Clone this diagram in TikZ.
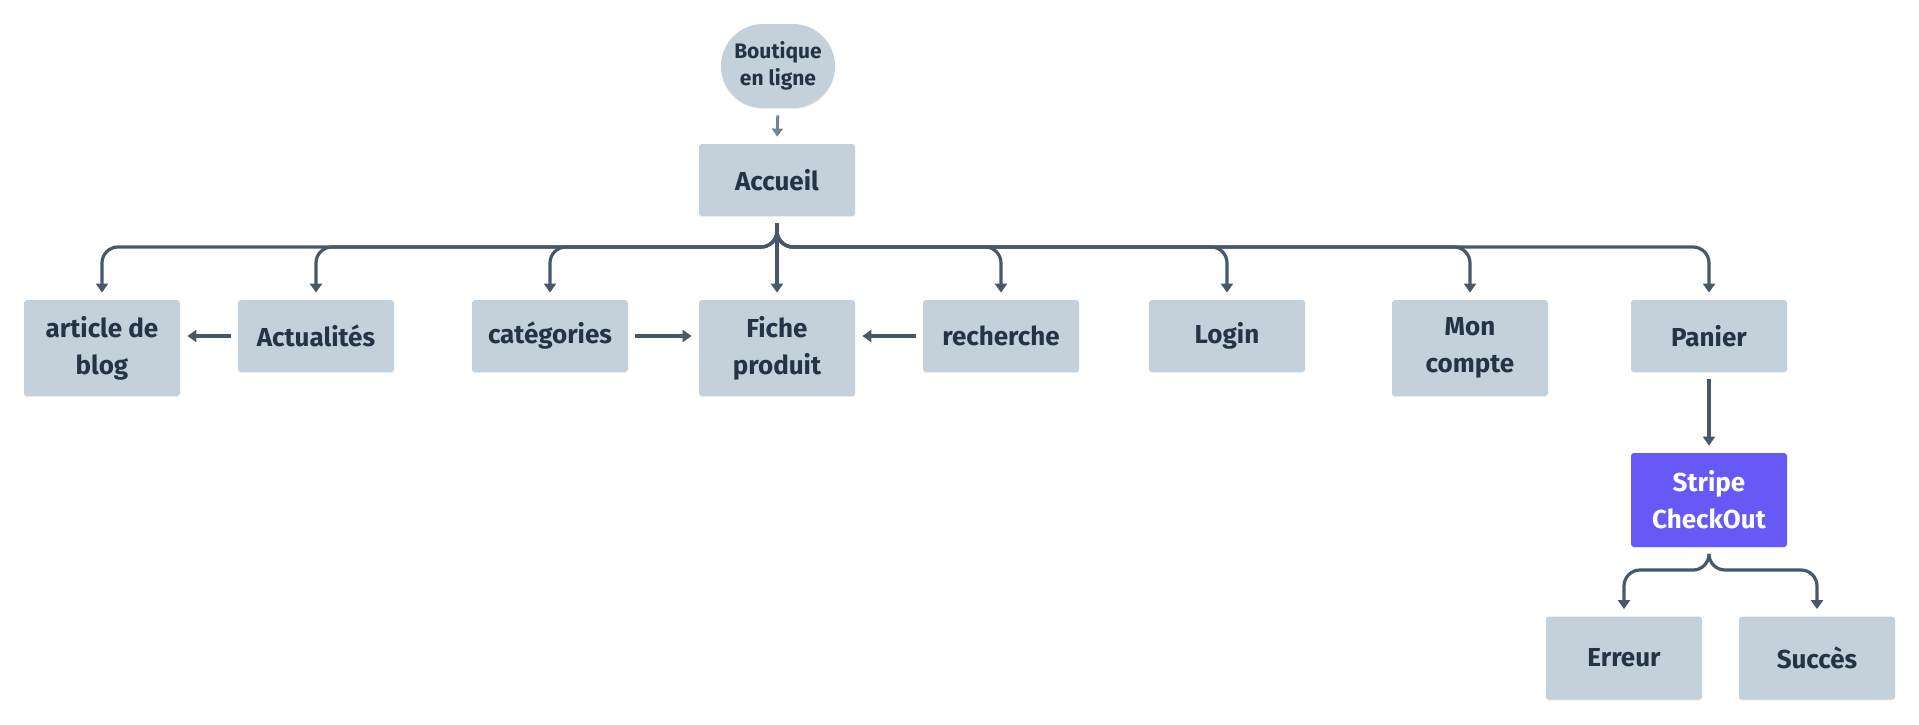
\documentclass[tikz,border=0pt]{standalone}
\usepackage{fontspec}
\setmainfont{Fira Sans}
\usetikzlibrary{arrows.meta,shadows}
\definecolor{boxfill}{HTML}{C4D0DA}
\definecolor{txt}{HTML}{253445}
\definecolor{lineC}{HTML}{475969}
\definecolor{lightline}{HTML}{738495}
\definecolor{stripeC}{HTML}{6659F5}
\tikzset{
  box/.style={draw=none, fill=boxfill, rounded corners=1.5pt, text=txt,
    font=\bfseries\fontsize{13pt}{18.5pt}\selectfont, align=center,
    minimum width=78pt, minimum height=36pt, inner sep=0pt,
    drop shadow={opacity=0.12, shadow xshift=0pt, shadow yshift=-0.6pt}},
  tall/.style={minimum height=48pt},
  conn/.style={draw=lineC, line width=1.6pt, rounded corners=8pt,
    -{Triangle[width=6pt,length=4.5pt]}, shorten >=3.5pt, shorten <=3.5pt},
}
\begin{document}
\begin{tikzpicture}[x=0.5pt,y=-0.5pt]
\useasboundingbox (0,0) rectangle (1919,724);
\node[box, minimum width=57pt, minimum height=42pt, rounded corners=21pt,
  font=\bfseries\fontsize{10.5pt}{13.5pt}\selectfont] (bout) at (778,66) {Boutique\\en ligne};
\node[box] (acc) at (777,180) {Accueil};
\node[box, tall] (blog) at (102,348) {article de\\blog};
\node[box] (actu) at (316,336) {Actualités};
\node[box] (cat) at (550,336) {catégories};
\node[box, tall] (fiche) at (777,348) {Fiche\\produit};
\node[box] (rech) at (1001,336) {recherche};
\node[box] (login) at (1227,336) {Login};
\node[box, tall] (compte) at (1470,348) {Mon\\compte};
\node[box] (panier) at (1709,336) {Panier};
\node[box, minimum height=47pt, fill=stripeC, text=white] (stripe) at (1709,500) {Stripe\\CheckOut};
\node[box, minimum height=41.5pt] (err) at (1624,658) {Erreur};
\node[box, minimum height=41.5pt] (succ) at (1817,658) {Succès};
\coordinate (hub) at (777,247);
\coordinate (hub2) at (1709,570);

\draw[conn, draw=lightline, line width=1.5pt, -{Triangle[width=5.5pt,length=4pt]}] (bout.south) -- (acc.north);
\foreach \n in {blog,actu,cat,rech,login,compte,panier}{
  \draw[conn] (acc.south) -- (hub) -| (\n.north);
}
\draw[conn] (acc.south) -- (fiche.north);
\draw[conn] (actu.west) -- (actu.west -| blog.east);
\draw[conn] (cat.east) -- (cat.east -| fiche.west);
\draw[conn] (rech.west) -- (rech.west -| fiche.east);
\draw[conn] (panier.south) -- (stripe.north);
\draw[conn] (stripe.south) -- (hub2) -| (err.north);
\draw[conn] (stripe.south) -- (hub2) -| (succ.north);
\end{tikzpicture}
\end{document}
